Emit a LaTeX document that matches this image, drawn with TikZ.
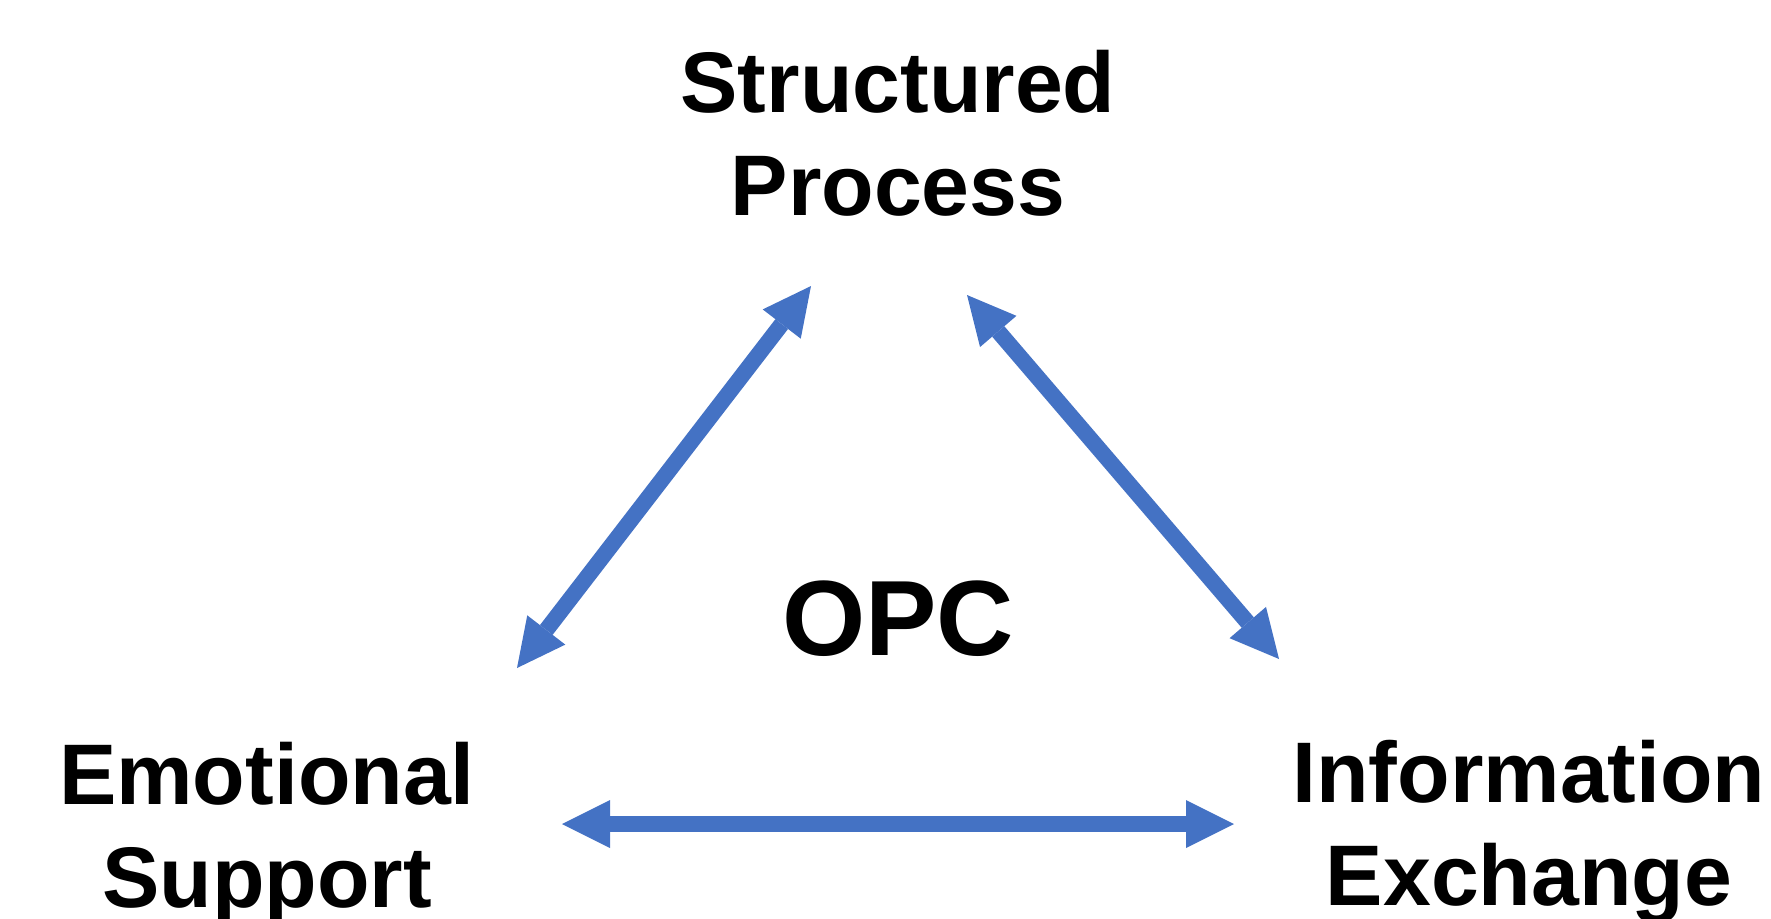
\documentclass[tikz,border=0pt]{standalone}
\usepackage{fontspec}
\setmainfont{Liberation Sans}
\usetikzlibrary{arrows.meta}
\definecolor{arrowblue}{HTML}{4472C4}
\begin{document}
\begin{tikzpicture}[x=0.5pt,y=-0.5pt,
  lbl/.style={font=\fontsize{43}{51.5}\selectfont\bfseries, align=center, inner sep=0pt, anchor=north},
  bitip/.style={Triangle[width=24pt,length=24pt,line width=0pt]},
  biarrow/.style={draw=arrowblue, line width=8pt, {Triangle[width=24pt,length=24pt,line width=0pt]}-{Triangle[width=24pt,length=24pt,line width=0pt]}}]
\useasboundingbox (0,0) rectangle (1771,918);
\node[lbl] (sp) at (898,50) {Structured\\Process};
\node[lbl] (es) at (267,742) {Emotional\\Support};
\node[lbl] (ie) at (1529,740) {Information\\Exchange};
\node[font=\fontsize{53.5}{64}\selectfont\bfseries, inner sep=0pt, anchor=base] (opc) at (898,655) {OPC};
\coordinate (l1) at (517,668);
\coordinate (l2) at (811,286);
\coordinate (r1) at (967,295);
\coordinate (r2) at (1279,659);
\coordinate (h1) at (562,824);
\coordinate (h2) at (1234,824);
\draw[biarrow] (l1) -- (l2);
\draw[biarrow] (r1) -- (r2);
\draw[biarrow] (h1) -- (h2);
\end{tikzpicture}
\end{document}
